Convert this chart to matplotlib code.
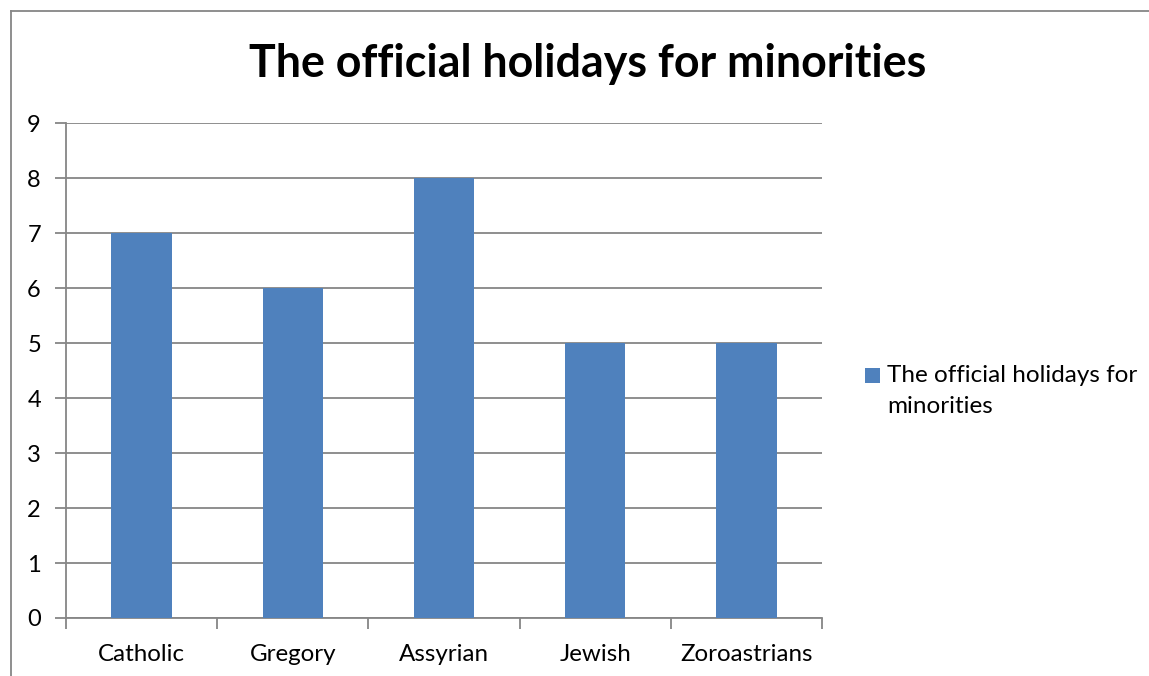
import matplotlib
matplotlib.use('Agg')
import matplotlib.pyplot as plt
from matplotlib.lines import Line2D
from matplotlib.patches import Rectangle
from matplotlib.legend_handler import HandlerPatch
from matplotlib.container import BarContainer

# 데이터
categories = ['Catholic', 'Gregory', 'Assyrian', 'Jewish', 'Zoroastrians']
holidays = [7, 6, 8, 5, 5]
series_name = 'The official holidays for\nminorities'
title = 'The official holidays for minorities'
bar_color = '#4F81BD'

plt.rcParams['font.family'] = ['Lato', 'DejaVu Sans']

fig = plt.figure(figsize=(11.49, 6.76), dpi=100)
ax = fig.add_axes([0.0574, 0.0858, 0.658, 0.732])

x = range(len(categories))
ax.bar(x, holidays, width=0.4, color=bar_color, label=series_name, zorder=3)

ax.set_xlim(-0.5, len(categories) - 0.5)
ax.set_ylim(0, 9)
ax.set_yticks(range(0, 10))
ax.set_xticks(x)
ax.set_xticklabels(categories)
ax.set_xticks([i - 0.5 for i in range(len(categories) + 1)], minor=True)

ax.grid(axis='y', color='#868686', linewidth=1.3, zorder=0)
for s in ['top', 'right']:
    ax.spines[s].set_visible(False)
for s in ['left', 'bottom']:
    ax.spines[s].set_color('#868686')
    ax.spines[s].set_linewidth(1.3)

ax.tick_params(axis='x', which='major', length=0, pad=19, labelsize=17.4)
ax.tick_params(axis='x', which='minor', length=8, width=1.3, color='#868686')
ax.tick_params(axis='y', length=8, width=1.3, color='#868686', pad=10, labelsize=17)

fig.text(0.511, 0.906, title, ha='center', va='center', fontsize=32.2, fontweight='bold')


# 범례 사각형을 첫 줄에 맞춤
def top_square(legend, orig_handle, xdescent, ydescent, width, height, fontsize):
    size = 0.62 * fontsize
    x0 = -xdescent + 0.12 * fontsize
    y0 = -ydescent + height - size + 0.33 * fontsize
    return Rectangle((x0, y0), size, size)


def first_child(legend_handle, orig_handle):
    legend_handle.update_from(orig_handle[0])


leg = ax.legend(loc='upper left', bbox_to_anchor=(1.037, 0.535), frameon=False, fontsize=17.5,
                handlelength=0.62, handleheight=1.55, handletextpad=0.4, borderpad=0,
                handler_map={BarContainer: HandlerPatch(patch_func=top_square,
                                                        update_func=first_child)})
for t in leg.get_texts():
    t.set_linespacing(1.55)

# 차트 테두리
fig.add_artist(Line2D([11/1149, 11/1149], [0, 1 - 11/676], color='#868686', linewidth=1.3))
fig.add_artist(Line2D([11/1149, 1], [1 - 11/676, 1 - 11/676], color='#868686', linewidth=1.3))

fig.savefig('out.png', dpi=100)
